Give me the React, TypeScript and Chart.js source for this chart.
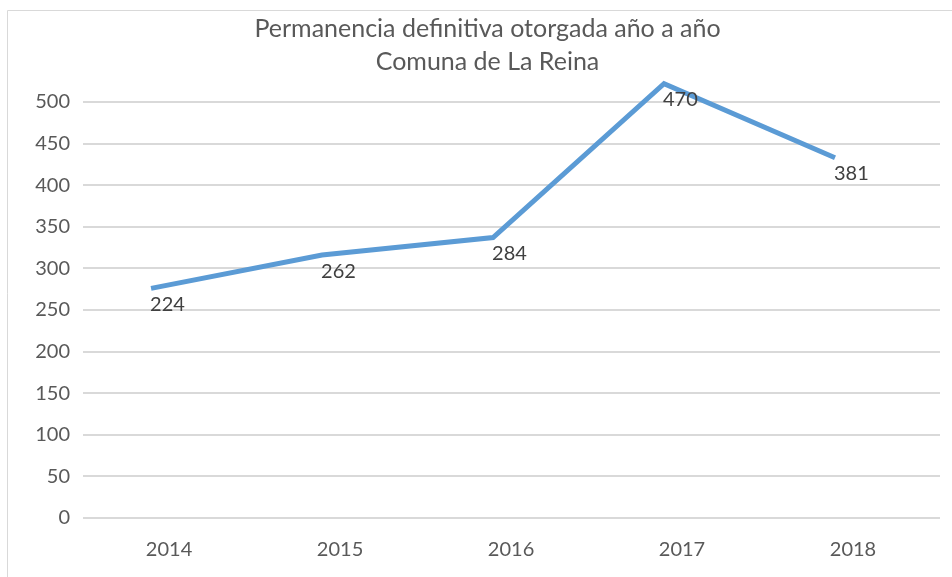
import React, { useEffect, useRef } from "react";
import { Chart, registerables } from "chart.js";

Chart.register(...registerables);

const years = [2014, 2015, 2016, 2017, 2018];
const plottedValues = [276, 316, 337, 522, 433];
const labelValues = ["224", "262", "284", "470", "381"];
const titleLines = ["Permanencia definitiva otorgada año a año", "Comuna de La Reina"];

const FONT = "Lato, 'Open Sans', sans-serif";

const framePlugin = {
  id: "frame",
  beforeDraw(chart: any) {
    const ctx = chart.ctx;
    ctx.save();
    ctx.strokeStyle = "#d9d9d9";
    ctx.lineWidth = 1;
    ctx.beginPath();
    ctx.moveTo(7.5, chart.height);
    ctx.lineTo(7.5, 10.5);
    ctx.lineTo(chart.width, 10.5);
    ctx.stroke();
    ctx.restore();
  },
};

const labelPlugin = {
  id: "pointLabels",
  afterDatasetsDraw(chart: any) {
    const ctx = chart.ctx;
    const meta = chart.getDatasetMeta(0);
    ctx.save();
    ctx.font = `20px ${FONT}`;
    ctx.fillStyle = "#404040";
    ctx.textAlign = "left";
    ctx.textBaseline = "top";
    meta.data.forEach((pt: any, i: number) => {
      ctx.fillText(labelValues[i], pt.x - 1, pt.y + 6);
    });
    ctx.restore();
  },
};

export default function App() {
  const ref = useRef<HTMLCanvasElement>(null);
  useEffect(() => {
    document.body.style.margin = "0";
    const chart = new Chart(ref.current!, {
      type: "line",
      data: {
        datasets: [
          {
            data: years.map((y, i) => ({ x: y, y: plottedValues[i] })),
            borderColor: "#5b9bd5",
            backgroundColor: "#5b9bd5",
            borderWidth: 5,
            pointRadius: 0,
            tension: 0,
            clip: false as any,
          },
        ],
      },
      options: {
        responsive: false,
        animation: false,
        layout: { padding: { left: 35, right: 12, top: 0, bottom: 0 } },
        plugins: {
          legend: { display: false },
          tooltip: { enabled: false },
          title: {
            display: true,
            text: titleLines,
            color: "#595959",
            font: { family: FONT, size: 25, weight: "normal", lineHeight: 1.3 },
            padding: { top: 13, bottom: -1 },
          },
        },
        scales: {
          x: {
            type: "linear",
            min: 2013.602,
            max: 2018.614,
            grid: { display: false },
            border: { display: false },
            afterBuildTicks: (axis: any) => {
              axis.ticks = years.map((y) => ({ value: y }));
            },
            afterFit: (scale: any) => {
              scale.height = 59;
            },
            ticks: {
              labelOffset: 18,
              padding: 12,
              color: "#595959",
              font: { family: FONT, size: 20 },
              callback: (v: any) => String(v),
              maxRotation: 0,
            },
          },
          y: {
            min: 0,
            max: 530,
            grid: { color: "#d9d9d9", lineWidth: 2, drawTicks: false },
            border: { display: false },
            afterBuildTicks: (axis: any) => {
              axis.ticks = axis.ticks.filter((t: any) => t.value % 50 === 0);
            },
            afterFit: (scale: any) => {
              scale.width = 48;
            },
            ticks: {
              stepSize: 50,
              padding: 13,
              color: "#595959",
              font: { family: FONT, size: 20 },
            },
          },
        },
      },
      plugins: [framePlugin, labelPlugin],
    });
    return () => chart.destroy();
  }, []);
  return (
    <div style={{ width: 952, height: 577 }}>
      <canvas ref={ref} width={952} height={577} />
    </div>
  );
}
